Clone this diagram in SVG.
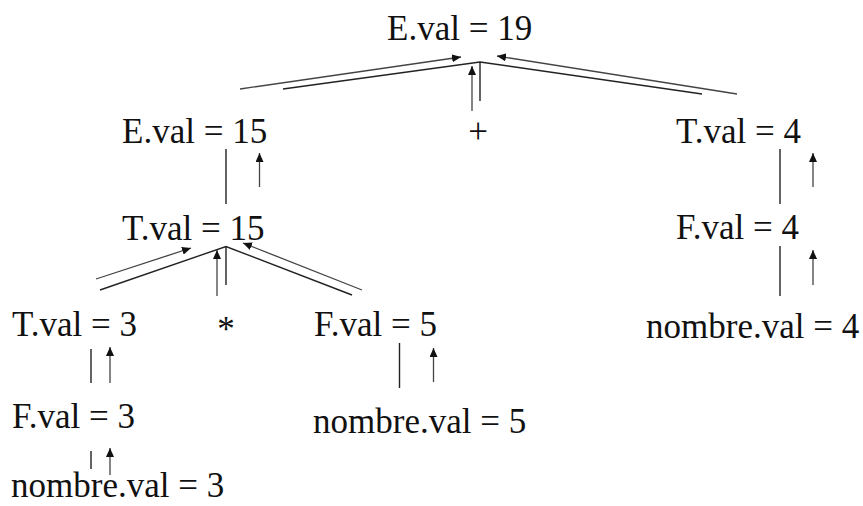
<svg xmlns="http://www.w3.org/2000/svg" width="863" height="506" viewBox="0 0 863 506">
<style>
  text { font-family: "Liberation Serif", "Times New Roman", serif; font-size: 35px; fill: #111; }
  .edge { stroke: #222; stroke-width: 1.4; fill: none; }
  .flow { stroke: #444; stroke-width: 1.3; fill: none; marker-end: url(#ah); }
</style>
<defs>
  <marker id="ah" markerUnits="userSpaceOnUse" markerWidth="10" markerHeight="8" refX="9" refY="4" orient="auto">
    <path d="M0,0 L9,4 L0,8 Z" fill="#111"/>
  </marker>
</defs>
<rect width="863" height="506" fill="#fff"/>
<g id="connectors">
  <!-- E19 children -->
  <path class="edge" d="M283,89 L480,62 L702,94"/>
  <path class="edge" d="M480,62 L480,101"/>
  <path class="flow" d="M240,89 L461,57"/>
  <path class="flow" d="M737,94 L497,56"/>
  <path class="flow" d="M472,111 L472,66"/>
  <!-- E15 - T15 -->
  <path class="edge" d="M226,149 L226,204"/>
  <path class="flow" d="M259.5,187 L259.5,153"/>
  <!-- T15 children -->
  <path class="edge" d="M100,290 L226,246.5 L352,295"/>
  <path class="edge" d="M226,246.5 L226,285"/>
  <path class="flow" d="M96,279 L191,248"/>
  <path class="flow" d="M362,290 L243,243"/>
  <path class="flow" d="M217,296 L217,250"/>
  <!-- T3 - F3 -->
  <path class="edge" d="M91,349 L91,383"/>
  <path class="flow" d="M110,383 L110,347"/>
  <!-- F3 - nombre3 -->
  <path class="edge" d="M91,451 L91,469"/>
  <path class="flow" d="M110,475 L110,448"/>
  <!-- F5 - nombre5 -->
  <path class="edge" d="M399.5,343 L399.5,388"/>
  <path class="flow" d="M433.5,382 L433.5,348"/>
  <!-- T4 - F4 -->
  <path class="edge" d="M780,149 L780,204"/>
  <path class="flow" d="M813,187 L813,153"/>
  <!-- F4 - nombre4 -->
  <path class="edge" d="M780,246 L780,296"/>
  <path class="flow" d="M813,285 L813,250"/>
</g>
<g id="E19"><text x="387" y="40">E.val = 19</text></g>
<g id="E15"><text x="122" y="143">E.val = 15</text></g>
<g id="plus"><text x="478" y="143" text-anchor="middle">+</text></g>
<g id="T4"><text x="676" y="143">T.val = 4</text></g>
<g id="T15"><text x="122" y="240">T.val = 15</text></g>
<g id="F4"><text x="676" y="239">F.val = 4</text></g>
<g id="T3"><text x="12" y="336">T.val = 3</text></g>
<g id="times"><text x="226" y="341" text-anchor="middle">*</text></g>
<g id="F5"><text x="314" y="336">F.val = 5</text></g>
<g id="nombre4"><text x="646" y="338">nombre.val = 4</text></g>
<g id="F3"><text x="12" y="428">F.val = 3</text></g>
<g id="nombre5"><text x="313" y="433">nombre.val = 5</text></g>
<g id="nombre3"><text x="11" y="497">nombre.val = 3</text></g>
</svg>
